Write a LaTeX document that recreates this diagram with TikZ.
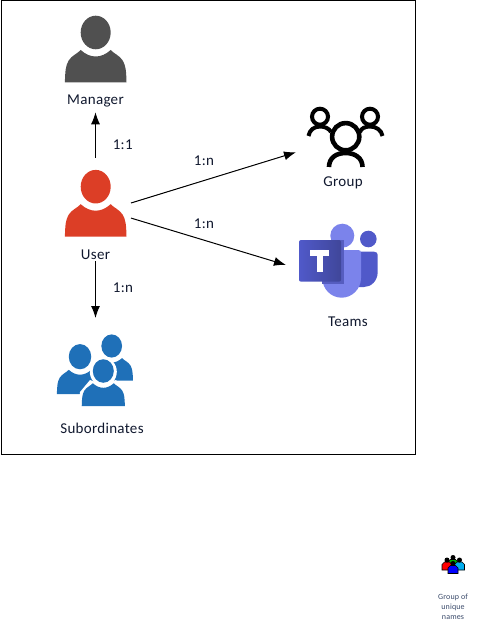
\documentclass[tikz,border=0pt]{standalone}
\usepackage{fontspec}
\setmainfont{Carlito}[LetterSpace=2]
\usepackage{tikz}
\usetikzlibrary{arrows.meta,positioning}
\definecolor{managergray}{HTML}{505050}
\definecolor{userred}{HTML}{DC3E26}
\definecolor{subblue}{HTML}{1F70B8}
\definecolor{teamslight}{HTML}{7B83EB}
\definecolor{teamsdark}{HTML}{5059C9}
\definecolor{teamssquare}{HTML}{4B53B5}
\definecolor{teamsshade}{HTML}{565DC0}
\definecolor{labelink}{HTML}{10182E}
\definecolor{smallink}{HTML}{3A4A6A}
\tikzset{
person/.pic={
\fill[pic actions] (0,0) ellipse (15 and 16.8);
\fill[pic actions] (-30.8,50) .. controls (-30.5,38) and (-30,33) .. (-27,28) .. controls (-24,23) and (-18,21) .. (-15,17.5)
 .. controls (-10,22) and (-5,24) .. (0,24) .. controls (5,24) and (10,22) .. (15,17.5)
 .. controls (18,21) and (24,23) .. (27,28) .. controls (30,33) and (30.5,38) .. (30.8,50) -- cycle;
},
tinyperson/.pic={
\filldraw[pic actions, draw=black, line width=.6pt] (-5,10) -- (-5,4.5) -- (-2.5,2) -- (2.5,2) -- (5,4.5) -- (5,10) -- cycle;
\fill[black] (0,0) circle (2.5);
},
labeltext/.style={font=\fontsize{15}{17}\selectfont, text=labelink, inner sep=1pt},
iconbox/.style={minimum width=#1, inner sep=0pt, outer sep=0pt},
arrow/.style={-{Latex[length=12pt,width=9pt]}, line width=1pt, draw=black}
}
\begin{document}
\begin{tikzpicture}[x=1pt,y=-1pt]
\useasboundingbox (0,0) rectangle (487,636);
\node[draw=black, line width=1pt, minimum width=414pt, minimum height=453pt, inner sep=0pt, outer sep=0pt] (frame) at (208,227.5) {};
% icons
\pic[fill=managergray] at (95.7,32.5) {person};
\pic[fill=userred] at (95.7,186.7) {person};
% subordinates
\pic[fill=subblue, scale=.69] at (111.7,346) {person};
\pic[fill=subblue, scale=.75] at (80,356.7) {person};
\fill[white] (103.3,371.7) ellipse (13.5 and 14.5);
\fill[white] (78.5,406) -- (80,392) -- (90,380) -- (103,385) -- (116,380) -- (126,392) -- (127.5,406) -- cycle;
\pic[fill=subblue, scale=.7] at (103.3,371) {person};
% group
\begin{scope}[line width=4pt, draw=black]
\draw (320,116.7) circle (8);
\draw (370,116.7) circle (8);
\draw[line width=4.6pt] (345.7,136.7) circle (13.6);
\draw (308.5,136) .. controls (309.5,130) and (314,126.5) .. (320,126.5) .. controls (325,126.5) and (329,128.5) .. (331,132);
\draw (382.5,136) .. controls (381.5,130) and (376,126.5) .. (370,126.5) .. controls (365,126.5) and (361,128.5) .. (360,132);
\draw[line width=4.6pt] (329,167) .. controls (329,158) and (336,153) .. (345.7,153) .. controls (355,153) and (362.5,158) .. (362.5,167);
\end{scope}
% teams
\fill[teamsdark] (358,251.7) -- (374,251.7) .. controls (376.5,251.7) and (377.7,253) .. (377.7,255) -- (377.7,272) .. controls (377.7,281) and (371,287) .. (364,287) -- (358,287) -- cycle;
\fill[teamsdark] (368.3,239) circle (8.3);
\fill[teamslight] (342.3,235.7) circle (12);
\fill[teamslight] (322.3,250) -- (358,250) .. controls (360,250) and (361,251) .. (361,253) -- (361,278) .. controls (361,289) and (352,297.7) .. (341.7,297.7) .. controls (331,297.7) and (322.3,289) .. (322.3,278) -- cycle;
\fill[teamsshade] (322,240) -- (343.5,240) -- (343.5,283.5) -- (322,283.5) -- cycle;
\shade[left color=teamsdark, right color=teamssquare!85!black, rounded corners=2pt] (299,240) rectangle (341,281.7);
\fill[white] (310.3,250) rectangle (329.3,256);
\fill[white] (316.7,250) rectangle (323.3,271.7);
% small group icon
\pic[fill=green!70!black] at (453,557.5) {tinyperson};
\pic[fill=red] at (447,560) {tinyperson};
\pic[fill=cyan] at (459.5,560) {tinyperson};
\pic[fill=blue] at (453,563.5) {tinyperson};
% labels
\node[labeltext] (managerlabel) at (95.5,101) {Manager};
\node[labeltext] (userlabel) at (95.5,255) {User};
\node[labeltext] (sublabel) at (102,428) {Subordinates};
\node[labeltext] (grouplabel) at (343,183) {Group};
\node[labeltext] (teamslabel) at (348,322) {Teams};
\node[font=\fontsize{8}{10}\selectfont, text=smallink, align=center, inner sep=0pt] (smalllabel) at (453,607) {Group of\\unique\\names};
% anchors for the connectors
\node[iconbox=71pt, minimum height=90pt] (user) at (95.5,203) {};
\node[iconbox=100pt, minimum height=40pt] (subs) at (95.5,338) {};
\node[iconbox=100pt, minimum height=60pt] (group) at (346,135) {};
\node[iconbox=104pt, minimum height=60pt] (teams) at (338,265) {};
\draw[arrow, shorten >=4pt] (user.north) -- (managerlabel.south);
\draw[arrow] (user.east) -- (group.199.8);
\draw[arrow] (user.-23) -- (teams.west);
\draw[arrow] (userlabel.south) -- (subs.north);
\node[labeltext] (l1) at (122.7,145) {1:1};
\node[labeltext] (l2) at (204,161) {1:n};
\node[labeltext] (l3) at (204,224) {1:n};
\node[labeltext] (l4) at (123,288) {1:n};
\end{tikzpicture}
\end{document}
